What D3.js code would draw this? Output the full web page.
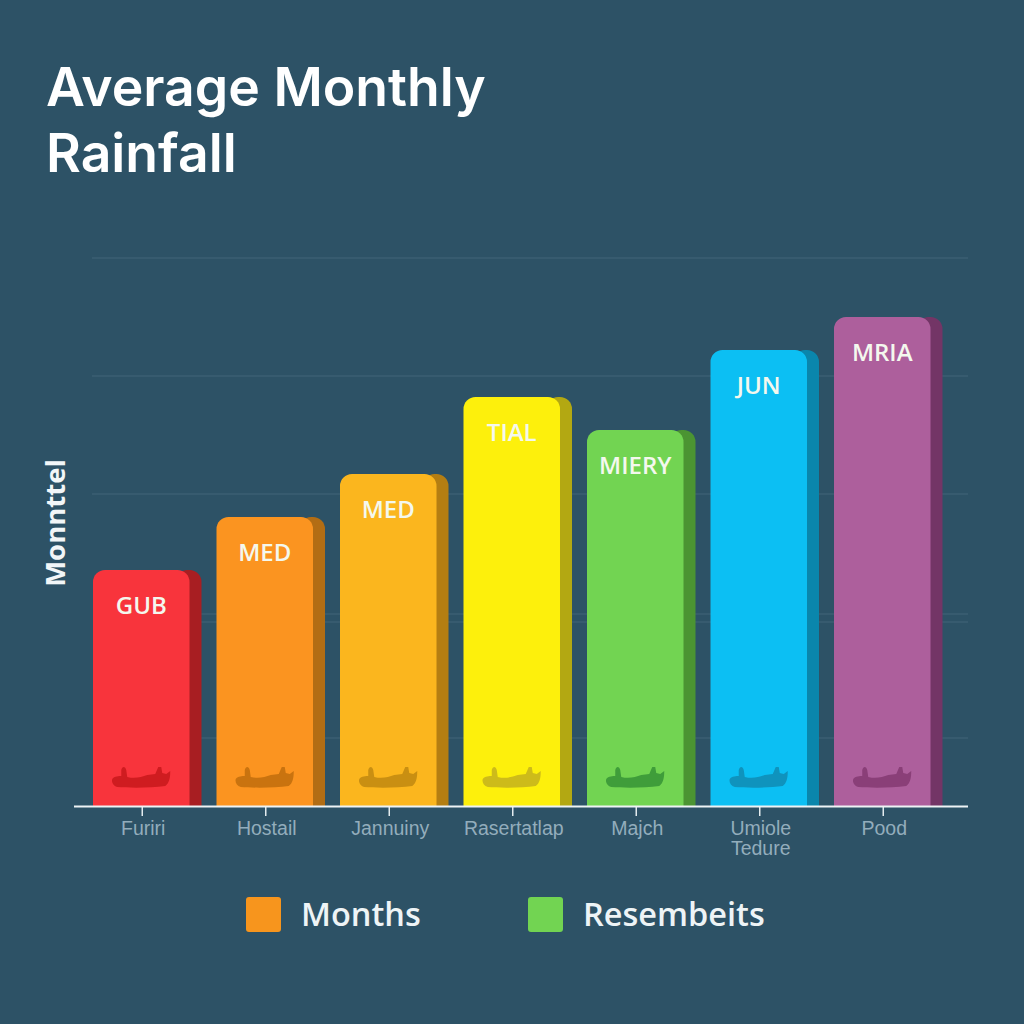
<!DOCTYPE html>
<html><head><meta charset="utf-8">
<script src="https://cdnjs.cloudflare.com/ajax/libs/d3/7.8.5/d3.min.js"></script>
<style>html,body{margin:0;padding:0;background:#2d5266}svg{display:block}text{font-family:"Open Sans",sans-serif}</style>
</head><body><svg id="c" width="1024" height="1024"></svg>
<script>
const categories=["Furiri","Hostail","Jannuiny","Rasertatlap","Majch","Umiole Tedure","Pood"];
const values=[236,289,332,409,376,456,489];
const barLabels=["GUB","MED","MED","TIAL","MIERY","JUN","MRIA"];
const barColors=["#f8343c","#fb9420","#fbb61e","#fdf00c","#72d452","#0cbff3","#ad5f9c"];
const sideColors=["#a81e22","#b26d14","#b47e12","#b3a812","#4b9432","#0a86ac","#733566"];
const iconColors=["#cf1c20","#c9730f","#c98f12","#cdbb1a","#3f9d3a","#0f93bd","#8a3f78"];
const gridFull=[548,430,312];
const gridPartial=[192,184,68];
const legendLabels=["Months","Resembeits"];
const legendColors=["#f7951d","#72d452"];
const titleLines=["Average Monthly","Rainfall"];
const yLabel="Monnttel";

const svg=d3.select("#c");
const y=d3.scaleLinear().domain([0,548]).range([806,258]);
const x=d3.scaleBand().domain(categories).range([93,930.5]).paddingInner(0.2186).paddingOuter(0);
const depth=12;

svg.append("rect").attr("width",1024).attr("height",1024).attr("fill","#2d5266");

svg.selectAll(".title").data(titleLines).join("text").attr("class","title")
 .attr("x",46).attr("y",(d,i)=>106+i*66).attr("fill","#fff")
 .attr("style",'font-family:Inter,sans-serif').attr("font-size",53.5).attr("font-weight",600).text(d=>d);

svg.append("text").attr("transform","translate(65,523) rotate(-90)").attr("text-anchor","middle")
 .attr("fill","#f2f6f8").attr("font-size",27.5).attr("font-weight",700).text(yLabel);

const gridColor="#436578";
svg.selectAll(".gf").data(gridFull).join("line").attr("class","gf")
 .attr("x1",92).attr("x2",968).attr("y1",d=>y(d)).attr("y2",d=>y(d)).attr("stroke",gridColor);
svg.selectAll(".gp").data(gridPartial).join("line").attr("class","gp")
 .attr("x1",200).attr("x2",968).attr("y1",d=>y(d)).attr("y2",d=>y(d)).attr("stroke",gridColor);

function topRounded(x0,x1,y0,y1,r){
 const p=d3.path();
 p.moveTo(x0,y1);p.lineTo(x0,y0+r);p.arcTo(x0,y0,x0+r,y0,r);
 p.lineTo(x1-r,y0);p.arcTo(x1,y0,x1,y0+r,r);p.lineTo(x1,y1);p.closePath();
 return p.toString();
}
const boat="M-29,-6 C-27,-9 -22,-9 -20,-9 L-20,-15 C-19,-19 -16,-19 -15,-15 L-14,-8 C-6,-6 0,-8 6,-10 L14,-11 L17,-18 L20,-18 L21,-12 L25,-11 L29,-14 C29,-7 28,-2 24,1 C10,3 -12,3 -24,2 C-28,1 -30,-3 -29,-6 Z";

const g=svg.selectAll(".bar").data(categories).join("g").attr("class","bar");
g.append("path").attr("fill",(d,i)=>sideColors[i])
 .attr("d",(d,i)=>topRounded(x(d)+x.bandwidth()-14,x(d)+x.bandwidth()+depth,y(values[i]),y(0),12));
g.append("path").attr("fill",(d,i)=>barColors[i])
 .attr("d",(d,i)=>topRounded(x(d),x(d)+x.bandwidth(),y(values[i]),y(0),12));
g.append("path").attr("d",boat).attr("fill",(d,i)=>iconColors[i])
 .attr("transform",d=>`translate(${x(d)+x.bandwidth()/2},785)`);
g.append("text").attr("x",d=>x(d)+x.bandwidth()/2).attr("y",(d,i)=>y(values[i])+44)
 .attr("text-anchor","middle").attr("fill","#f4f8ee").attr("font-size",24).attr("font-weight",600)
 .text((d,i)=>barLabels[i]);

const axis=d3.axisBottom(x).tickSize(10).tickSizeOuter(0).tickFormat("");
const ax=svg.append("g").attr("transform","translate(1,806)").call(axis);
ax.select(".domain").remove();
ax.selectAll("line").attr("stroke","#e4ecef").attr("stroke-width",1.5);
svg.append("line").attr("x1",74).attr("x2",968).attr("y1",806.5).attr("y2",806.5).attr("stroke","#eef3f5").attr("stroke-width",2);

const labels=svg.selectAll(".xl").data(categories).join("text").attr("class","xl")
 .attr("text-anchor","middle").attr("fill","#93adbc").attr("font-size",19.5)
 .attr("style",'font-family:"Liberation Sans",sans-serif');
labels.each(function(d){
 const t=d3.select(this), cx=x(d)+x.bandwidth()/2+2;
 const parts=d==="Umiole Tedure"?["Umiole","Tedure"]:[d];
 parts.forEach((s,i)=>t.append("tspan").attr("x",cx).attr("y",835+i*20).text(s));
});

const lx=[246,528];
svg.selectAll(".ls").data(legendLabels).join("rect").attr("class","ls")
 .attr("x",(d,i)=>lx[i]).attr("y",897).attr("width",35).attr("height",35).attr("rx",3).attr("fill",(d,i)=>legendColors[i]);
svg.selectAll(".lt").data(legendLabels).join("text").attr("class","lt")
 .attr("x",(d,i)=>lx[i]+55).attr("y",926).attr("fill","#eef4f6").attr("font-size",32.5).attr("font-weight",600).text(d=>d);
</script></body></html>
